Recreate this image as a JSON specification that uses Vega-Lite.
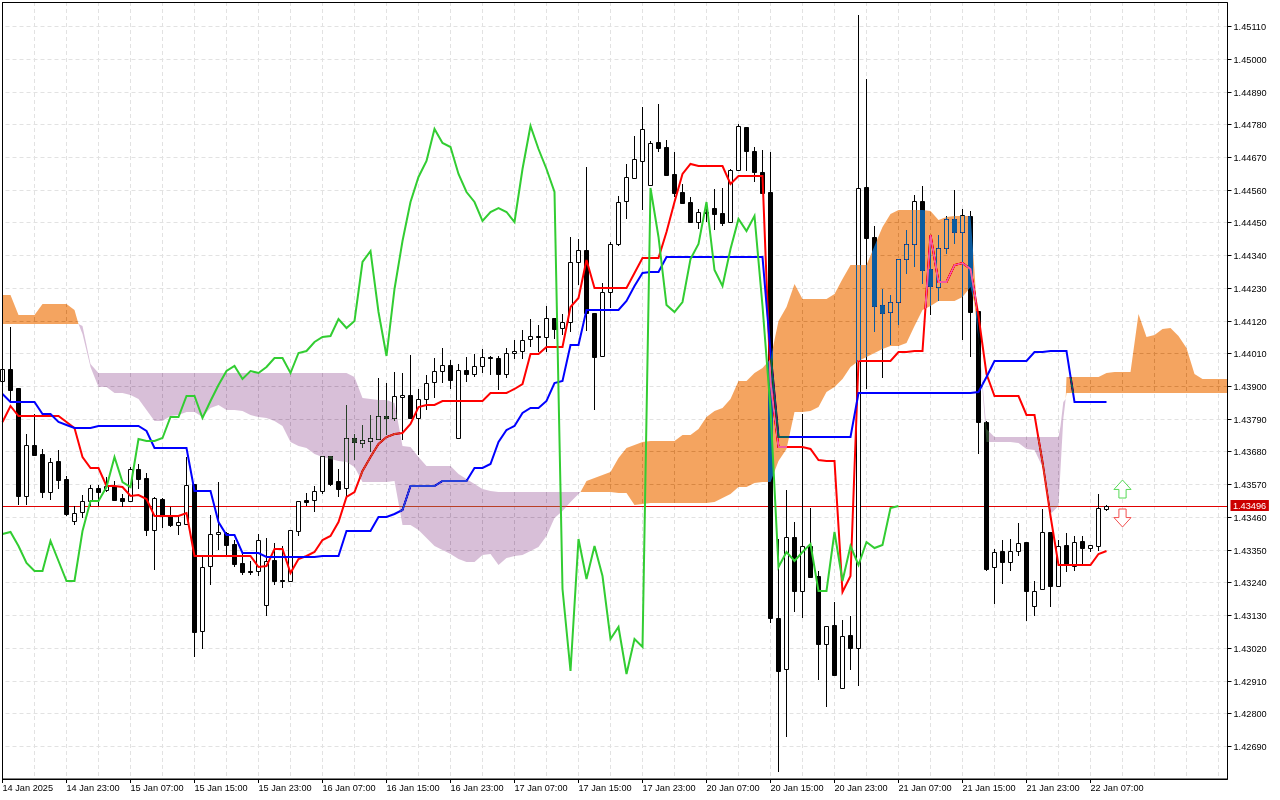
{
  "$schema": "https://vega.github.io/schema/vega-lite/v6.json",
  "width": 1225,
  "height": 777,
  "autosize": "none",
  "padding": {"left": 2, "top": 2, "right": 53, "bottom": 21},
  "background": "#ffffff",
  "config": {"view": {"stroke": "#000000", "strokeWidth": 1}},
  "datasets": {
    "bars": [
      {"bar":0,"open":1.43917,"high":1.43974,"low":1.43856,"close":1.43957,"tenkan":1.43779,"kijun":1.43873,"chikou":1.43402},
      {"bar":1,"open":1.43957,"high":1.44098,"low":1.43846,"close":1.43887,"tenkan":1.43833,"kijun":1.43846,"chikou":1.43409},
      {"bar":2,"open":1.43893,"high":1.43893,"low":1.43500,"close":1.43530,"tenkan":1.43799,"kijun":1.43846,"chikou":1.43362},
      {"bar":3,"open":1.43530,"high":1.43739,"low":1.43500,"close":1.43702,"tenkan":1.43799,"kijun":1.43846,"chikou":1.43305},
      {"bar":4,"open":1.43702,"high":1.43806,"low":1.43668,"close":1.43668,"tenkan":1.43799,"kijun":1.43846,"chikou":1.43278},
      {"bar":5,"open":1.43671,"high":1.43688,"low":1.43523,"close":1.43544,"tenkan":1.43799,"kijun":1.43806,"chikou":1.43278},
      {"bar":6,"open":1.43544,"high":1.43658,"low":1.43517,"close":1.43644,"tenkan":1.43799,"kijun":1.43806,"chikou":1.43379},
      {"bar":7,"open":1.43648,"high":1.43685,"low":1.43554,"close":1.43584,"tenkan":1.43799,"kijun":1.43779,"chikou":1.43312},
      {"bar":8,"open":1.43587,"high":1.43597,"low":1.43463,"close":1.43470,"tenkan":1.43779,"kijun":1.43769,"chikou":1.43244},
      {"bar":9,"open":1.43446,"high":1.43496,"low":1.43433,"close":1.43473,"tenkan":1.43759,"kijun":1.43759,"chikou":1.43244},
      {"bar":10,"open":1.43476,"high":1.43533,"low":1.43456,"close":1.43513,"tenkan":1.43661,"kijun":1.43759,"chikou":1.43412},
      {"bar":11,"open":1.43513,"high":1.43567,"low":1.43496,"close":1.43557,"tenkan":1.43624,"kijun":1.43759,"chikou":1.43513},
      {"bar":12,"open":1.43557,"high":1.43567,"low":1.43496,"close":1.43544,"tenkan":1.43624,"kijun":1.43765,"chikou":1.43513},
      {"bar":13,"open":1.43550,"high":1.43594,"low":1.43544,"close":1.43564,"tenkan":1.43564,"kijun":1.43765,"chikou":1.43560},
      {"bar":14,"open":1.43564,"high":1.43580,"low":1.43513,"close":1.43517,"tenkan":1.43564,"kijun":1.43765,"chikou":1.43661},
      {"bar":15,"open":1.43523,"high":1.43537,"low":1.43493,"close":1.43513,"tenkan":1.43560,"kijun":1.43765,"chikou":1.43577},
      {"bar":16,"open":1.43513,"high":1.43628,"low":1.43510,"close":1.43621,"tenkan":1.43530,"kijun":1.43765,"chikou":1.43560},
      {"bar":17,"open":1.43621,"high":1.43638,"low":1.43554,"close":1.43587,"tenkan":1.43533,"kijun":1.43765,"chikou":1.43722},
      {"bar":18,"open":1.43591,"high":1.43607,"low":1.43396,"close":1.43416,"tenkan":1.43520,"kijun":1.43749,"chikou":1.43715},
      {"bar":19,"open":1.43416,"high":1.43527,"low":1.43281,"close":1.43523,"tenkan":1.43463,"kijun":1.43691,"chikou":1.43715},
      {"bar":20,"open":1.43520,"high":1.43523,"low":1.43423,"close":1.43463,"tenkan":1.43463,"kijun":1.43691,"chikou":1.43725},
      {"bar":21,"open":1.43463,"high":1.43493,"low":1.43426,"close":1.43433,"tenkan":1.43463,"kijun":1.43691,"chikou":1.43796},
      {"bar":22,"open":1.43433,"high":1.43459,"low":1.43399,"close":1.43443,"tenkan":1.43463,"kijun":1.43691,"chikou":1.43796},
      {"bar":23,"open":1.43436,"high":1.43661,"low":1.43436,"close":1.43567,"tenkan":1.43473,"kijun":1.43691,"chikou":1.43866},
      {"bar":24,"open":1.43570,"high":1.43570,"low":1.42989,"close":1.43073,"tenkan":1.43328,"kijun":1.43547,"chikou":1.43866},
      {"bar":25,"open":1.43076,"high":1.43332,"low":1.43016,"close":1.43291,"tenkan":1.43328,"kijun":1.43547,"chikou":1.43792},
      {"bar":26,"open":1.43295,"high":1.43466,"low":1.43231,"close":1.43402,"tenkan":1.43328,"kijun":1.43547,"chikou":1.43849},
      {"bar":27,"open":1.43402,"high":1.43577,"low":1.43349,"close":1.43409,"tenkan":1.43328,"kijun":1.43443,"chikou":1.43903},
      {"bar":28,"open":1.43406,"high":1.43409,"low":1.43332,"close":1.43365,"tenkan":1.43328,"kijun":1.43399,"chikou":1.43950},
      {"bar":29,"open":1.43369,"high":1.43382,"low":1.43291,"close":1.43302,"tenkan":1.43328,"kijun":1.43399,"chikou":1.43967},
      {"bar":30,"open":1.43305,"high":1.43342,"low":1.43265,"close":1.43275,"tenkan":1.43328,"kijun":1.43339,"chikou":1.43923},
      {"bar":31,"open":1.43278,"high":1.43312,"low":1.43265,"close":1.43275,"tenkan":1.43328,"kijun":1.43339,"chikou":1.43950},
      {"bar":32,"open":1.43278,"high":1.43402,"low":1.43261,"close":1.43382,"tenkan":1.43291,"kijun":1.43339,"chikou":1.43944},
      {"bar":33,"open":1.43164,"high":1.43389,"low":1.43127,"close":1.43312,"tenkan":1.43295,"kijun":1.43325,"chikou":1.43964},
      {"bar":34,"open":1.43315,"high":1.43372,"low":1.43231,"close":1.43244,"tenkan":1.43352,"kijun":1.43325,"chikou":1.43994},
      {"bar":35,"open":1.43248,"high":1.43362,"low":1.43221,"close":1.43244,"tenkan":1.43352,"kijun":1.43325,"chikou":1.43994},
      {"bar":36,"open":1.43244,"high":1.43416,"low":1.43244,"close":1.43416,"tenkan":1.43271,"kijun":1.43325,"chikou":1.43944},
      {"bar":37,"open":1.43412,"high":1.43513,"low":1.43396,"close":1.43513,"tenkan":1.43318,"kijun":1.43325,"chikou":1.44011},
      {"bar":38,"open":1.43517,"high":1.43540,"low":1.43496,"close":1.43510,"tenkan":1.43328,"kijun":1.43325,"chikou":1.44018},
      {"bar":39,"open":1.43517,"high":1.43564,"low":1.43476,"close":1.43547,"tenkan":1.43342,"kijun":1.43325,"chikou":1.44048},
      {"bar":40,"open":1.43547,"high":1.43665,"low":1.43537,"close":1.43665,"tenkan":1.43382,"kijun":1.43328,"chikou":1.44065},
      {"bar":41,"open":1.43665,"high":1.43665,"low":1.43564,"close":1.43570,"tenkan":1.43396,"kijun":1.43328,"chikou":1.44068},
      {"bar":42,"open":1.43580,"high":1.43621,"low":1.43527,"close":1.43554,"tenkan":1.43443,"kijun":1.43328,"chikou":1.44125},
      {"bar":43,"open":1.43557,"high":1.43836,"low":1.43530,"close":1.43725,"tenkan":1.43527,"kijun":1.43412,"chikou":1.44095},
      {"bar":44,"open":1.43725,"high":1.43739,"low":1.43651,"close":1.43712,"tenkan":1.43544,"kijun":1.43412,"chikou":1.44118},
      {"bar":45,"open":1.43708,"high":1.43769,"low":1.43691,"close":1.43718,"tenkan":1.43614,"kijun":1.43412,"chikou":1.44317},
      {"bar":46,"open":1.43715,"high":1.43802,"low":1.43678,"close":1.43725,"tenkan":1.43661,"kijun":1.43412,"chikou":1.44354},
      {"bar":47,"open":1.43722,"high":1.43927,"low":1.43718,"close":1.43799,"tenkan":1.43705,"kijun":1.43459,"chikou":1.44149},
      {"bar":48,"open":1.43799,"high":1.43910,"low":1.43735,"close":1.43792,"tenkan":1.43728,"kijun":1.43459,"chikou":1.44001},
      {"bar":49,"open":1.43792,"high":1.43947,"low":1.43782,"close":1.43866,"tenkan":1.43739,"kijun":1.43470,"chikou":1.44226},
      {"bar":50,"open":1.43863,"high":1.43944,"low":1.43718,"close":1.43870,"tenkan":1.43742,"kijun":1.43483,"chikou":1.44387},
      {"bar":51,"open":1.43870,"high":1.44004,"low":1.43789,"close":1.43792,"tenkan":1.43772,"kijun":1.43564,"chikou":1.44518},
      {"bar":52,"open":1.43792,"high":1.43890,"low":1.43668,"close":1.43856,"tenkan":1.43829,"kijun":1.43564,"chikou":1.44603},
      {"bar":53,"open":1.43856,"high":1.43937,"low":1.43819,"close":1.43910,"tenkan":1.43836,"kijun":1.43564,"chikou":1.44656},
      {"bar":54,"open":1.43913,"high":1.43994,"low":1.43860,"close":1.43950,"tenkan":1.43836,"kijun":1.43564,"chikou":1.44764},
      {"bar":55,"open":1.43950,"high":1.44028,"low":1.43910,"close":1.43970,"tenkan":1.43849,"kijun":1.43580,"chikou":1.44717},
      {"bar":56,"open":1.43970,"high":1.43987,"low":1.43890,"close":1.43920,"tenkan":1.43849,"kijun":1.43580,"chikou":1.44703},
      {"bar":57,"open":1.43725,"high":1.43974,"low":1.43725,"close":1.43954,"tenkan":1.43849,"kijun":1.43580,"chikou":1.44613},
      {"bar":58,"open":1.43954,"high":1.43997,"low":1.43913,"close":1.43940,"tenkan":1.43849,"kijun":1.43580,"chikou":1.44552},
      {"bar":59,"open":1.43940,"high":1.44008,"low":1.43930,"close":1.43967,"tenkan":1.43849,"kijun":1.43624,"chikou":1.44518},
      {"bar":60,"open":1.43967,"high":1.44024,"low":1.43944,"close":1.43997,"tenkan":1.43849,"kijun":1.43624,"chikou":1.44455},
      {"bar":61,"open":1.43997,"high":1.44001,"low":1.43937,"close":1.43994,"tenkan":1.43876,"kijun":1.43638,"chikou":1.44485},
      {"bar":62,"open":1.43994,"high":1.44001,"low":1.43887,"close":1.43940,"tenkan":1.43876,"kijun":1.43712,"chikou":1.44498},
      {"bar":63,"open":1.43940,"high":1.44028,"low":1.43927,"close":1.44011,"tenkan":1.43876,"kijun":1.43752,"chikou":1.44485},
      {"bar":64,"open":1.44011,"high":1.44055,"low":1.43991,"close":1.44018,"tenkan":1.43890,"kijun":1.43765,"chikou":1.44451},
      {"bar":65,"open":1.44018,"high":1.44088,"low":1.43991,"close":1.44055,"tenkan":1.43907,"kijun":1.43809,"chikou":1.44630},
      {"bar":66,"open":1.44058,"high":1.44125,"low":1.44031,"close":1.44068,"tenkan":1.44008,"kijun":1.43826,"chikou":1.44774},
      {"bar":67,"open":1.44068,"high":1.44105,"low":1.44014,"close":1.44065,"tenkan":1.44008,"kijun":1.43826,"chikou":1.44697},
      {"bar":68,"open":1.44065,"high":1.44169,"low":1.44014,"close":1.44129,"tenkan":1.44031,"kijun":1.43849,"chikou":1.44630},
      {"bar":69,"open":1.44129,"high":1.44129,"low":1.44058,"close":1.44092,"tenkan":1.44031,"kijun":1.43910,"chikou":1.44552},
      {"bar":70,"open":1.44095,"high":1.44142,"low":1.44071,"close":1.44115,"tenkan":1.44031,"kijun":1.43917,"chikou":1.43217},
      {"bar":71,"open":1.44115,"high":1.44401,"low":1.44081,"close":1.44317,"tenkan":1.44165,"kijun":1.44038,"chikou":1.42942},
      {"bar":72,"open":1.44317,"high":1.44394,"low":1.44240,"close":1.44357,"tenkan":1.44196,"kijun":1.44038,"chikou":1.43386},
      {"bar":73,"open":1.44357,"high":1.44636,"low":1.44085,"close":1.44145,"tenkan":1.44324,"kijun":1.44155,"chikou":1.43251},
      {"bar":74,"open":1.44145,"high":1.44145,"low":1.43819,"close":1.43997,"tenkan":1.44229,"kijun":1.44155,"chikou":1.43362},
      {"bar":75,"open":1.44001,"high":1.44246,"low":1.44001,"close":1.44216,"tenkan":1.44229,"kijun":1.44155,"chikou":1.43261},
      {"bar":76,"open":1.44216,"high":1.44384,"low":1.44162,"close":1.44377,"tenkan":1.44229,"kijun":1.44155,"chikou":1.43049},
      {"bar":77,"open":1.44377,"high":1.44539,"low":1.44371,"close":1.44518,"tenkan":1.44229,"kijun":1.44155,"chikou":1.43090},
      {"bar":78,"open":1.44522,"high":1.44646,"low":1.44461,"close":1.44603,"tenkan":1.44229,"kijun":1.44186,"chikou":1.42932},
      {"bar":79,"open":1.44599,"high":1.44740,"low":1.44599,"close":1.44663,"tenkan":1.44280,"kijun":1.44236,"chikou":1.43049},
      {"bar":80,"open":1.44656,"high":1.44838,"low":1.44492,"close":1.44764,"tenkan":1.44330,"kijun":1.44280,"chikou":1.43022},
      {"bar":81,"open":1.44576,"high":1.44724,"low":1.44576,"close":1.44717,"tenkan":1.44330,"kijun":1.44283,"chikou":1.44566},
      {"bar":82,"open":1.44720,"high":1.44848,"low":1.44687,"close":1.44700,"tenkan":1.44330,"kijun":1.44283,"chikou":1.44401},
      {"bar":83,"open":1.44703,"high":1.44727,"low":1.44609,"close":1.44609,"tenkan":1.44418,"kijun":1.44334,"chikou":1.44172},
      {"bar":84,"open":1.44613,"high":1.44687,"low":1.44535,"close":1.44549,"tenkan":1.44518,"kijun":1.44334,"chikou":1.44149},
      {"bar":85,"open":1.44552,"high":1.44579,"low":1.44512,"close":1.44515,"tenkan":1.44613,"kijun":1.44334,"chikou":1.44182},
      {"bar":86,"open":1.44518,"high":1.44535,"low":1.44451,"close":1.44451,"tenkan":1.44646,"kijun":1.44334,"chikou":1.44327},
      {"bar":87,"open":1.44451,"high":1.44495,"low":1.44428,"close":1.44485,"tenkan":1.44640,"kijun":1.44334,"chikou":1.44377},
      {"bar":88,"open":1.44485,"high":1.44518,"low":1.44451,"close":1.44481,"tenkan":1.44640,"kijun":1.44334,"chikou":1.44518},
      {"bar":89,"open":1.44498,"high":1.44562,"low":1.44424,"close":1.44478,"tenkan":1.44640,"kijun":1.44334,"chikou":1.44290},
      {"bar":90,"open":1.44481,"high":1.44566,"low":1.44438,"close":1.44448,"tenkan":1.44640,"kijun":1.44334,"chikou":1.44236},
      {"bar":91,"open":1.44451,"high":1.44630,"low":1.44448,"close":1.44626,"tenkan":1.44579,"kijun":1.44334,"chikou":1.44361},
      {"bar":92,"open":1.44626,"high":1.44781,"low":1.44626,"close":1.44774,"tenkan":1.44606,"kijun":1.44334,"chikou":1.44461},
      {"bar":93,"open":1.44771,"high":1.44771,"low":1.44623,"close":1.44690,"tenkan":1.44606,"kijun":1.44334,"chikou":1.44421},
      {"bar":94,"open":1.44690,"high":1.44703,"low":1.44586,"close":1.44619,"tenkan":1.44606,"kijun":1.44334,"chikou":1.44471},
      {"bar":95,"open":1.44619,"high":1.44693,"low":1.44549,"close":1.44549,"tenkan":1.44606,"kijun":1.44334,"chikou":1.44169},
      {"bar":96,"open":1.44552,"high":1.44687,"low":1.43103,"close":1.43120,"tenkan":1.43913,"kijun":1.44014,"chikou":1.43823},
      {"bar":97,"open":1.43120,"high":1.43386,"low":1.42602,"close":1.42942,"tenkan":1.43695,"kijun":1.43728,"chikou":1.43291},
      {"bar":98,"open":1.42949,"high":1.43550,"low":1.42720,"close":1.43392,"tenkan":1.43695,"kijun":1.43728,"chikou":1.43342},
      {"bar":99,"open":1.43392,"high":1.43443,"low":1.43140,"close":1.43211,"tenkan":1.43695,"kijun":1.43728,"chikou":1.43312},
      {"bar":100,"open":1.43211,"high":1.43806,"low":1.43120,"close":1.43362,"tenkan":1.43695,"kijun":1.43728,"chikou":1.43342},
      {"bar":101,"open":1.43362,"high":1.43490,"low":1.43254,"close":1.43258,"tenkan":1.43688,"kijun":1.43728,"chikou":1.43369},
      {"bar":102,"open":1.43261,"high":1.43278,"low":1.42912,"close":1.43033,"tenkan":1.43651,"kijun":1.43728,"chikou":1.43211},
      {"bar":103,"open":1.43033,"high":1.43093,"low":1.42821,"close":1.43093,"tenkan":1.43648,"kijun":1.43728,"chikou":1.43211},
      {"bar":104,"open":1.43096,"high":1.43174,"low":1.42928,"close":1.42928,"tenkan":1.43648,"kijun":1.43728,"chikou":1.43409},
      {"bar":105,"open":1.42885,"high":1.43113,"low":1.42885,"close":1.43059,"tenkan":1.43207,"kijun":1.43728,"chikou":1.43244},
      {"bar":106,"open":1.43063,"high":1.43127,"low":1.42945,"close":1.43019,"tenkan":1.43261,"kijun":1.43728,"chikou":1.43362},
      {"bar":107,"open":1.43019,"high":1.45147,"low":1.42891,"close":1.44566,"tenkan":1.43984,"kijun":1.43876,"chikou":1.43298},
      {"bar":108,"open":1.44569,"high":1.44932,"low":1.43890,"close":1.44398,"tenkan":1.43984,"kijun":1.43876,"chikou":1.43375},
      {"bar":109,"open":1.44401,"high":1.44438,"low":1.44081,"close":1.44169,"tenkan":1.43984,"kijun":1.43876,"chikou":1.43355},
      {"bar":110,"open":1.44172,"high":1.44226,"low":1.43927,"close":1.44145,"tenkan":1.43984,"kijun":1.43876,"chikou":1.43365},
      {"bar":111,"open":1.44149,"high":1.44206,"low":1.44038,"close":1.44182,"tenkan":1.43984,"kijun":1.43876,"chikou":1.43490},
      {"bar":112,"open":1.44182,"high":1.44327,"low":1.44105,"close":1.44327,"tenkan":1.44014,"kijun":1.43876,"chikou":1.43496},
      {"bar":113,"open":1.44327,"high":1.44424,"low":1.44276,"close":1.44377,"tenkan":1.44014,"kijun":1.43876},
      {"bar":114,"open":1.44377,"high":1.44542,"low":1.44300,"close":1.44522,"tenkan":1.44018,"kijun":1.43876},
      {"bar":115,"open":1.44522,"high":1.44572,"low":1.44243,"close":1.44290,"tenkan":1.44018,"kijun":1.43876},
      {"bar":116,"open":1.44293,"high":1.44404,"low":1.44139,"close":1.44236,"tenkan":1.44408,"kijun":1.43876},
      {"bar":117,"open":1.44233,"high":1.44408,"low":1.44186,"close":1.44364,"tenkan":1.44250,"kijun":1.43876},
      {"bar":118,"open":1.44364,"high":1.44471,"low":1.44344,"close":1.44461,"tenkan":1.44250,"kijun":1.43876},
      {"bar":119,"open":1.44461,"high":1.44559,"low":1.44377,"close":1.44418,"tenkan":1.44307,"kijun":1.43876},
      {"bar":120,"open":1.44418,"high":1.44495,"low":1.44055,"close":1.44475,"tenkan":1.44313,"kijun":1.43876},
      {"bar":121,"open":1.44471,"high":1.44488,"low":1.43997,"close":1.44149,"tenkan":1.44293,"kijun":1.43876},
      {"bar":122,"open":1.44152,"high":1.44152,"low":1.43671,"close":1.43779,"tenkan":1.44135,"kijun":1.43880},
      {"bar":123,"open":1.43779,"high":1.43782,"low":1.43278,"close":1.43285,"tenkan":1.43940,"kijun":1.43930},
      {"bar":124,"open":1.43291,"high":1.43352,"low":1.43167,"close":1.43342,"tenkan":1.43866,"kijun":1.43984},
      {"bar":125,"open":1.43345,"high":1.43382,"low":1.43234,"close":1.43308,"tenkan":1.43866,"kijun":1.43984},
      {"bar":126,"open":1.43308,"high":1.43386,"low":1.43278,"close":1.43345,"tenkan":1.43866,"kijun":1.43984},
      {"bar":127,"open":1.43345,"high":1.43439,"low":1.43328,"close":1.43372,"tenkan":1.43866,"kijun":1.43984},
      {"bar":128,"open":1.43375,"high":1.43375,"low":1.43110,"close":1.43211,"tenkan":1.43802,"kijun":1.43984},
      {"bar":129,"open":1.43160,"high":1.43244,"low":1.43127,"close":1.43211,"tenkan":1.43802,"kijun":1.44014},
      {"bar":130,"open":1.43217,"high":1.43486,"low":1.43217,"close":1.43409,"tenkan":1.43644,"kijun":1.44014},
      {"bar":131,"open":1.43409,"high":1.43409,"low":1.43157,"close":1.43227,"tenkan":1.43463,"kijun":1.44018},
      {"bar":132,"open":1.43227,"high":1.43382,"low":1.43227,"close":1.43362,"tenkan":1.43298,"kijun":1.44018},
      {"bar":133,"open":1.43365,"high":1.43406,"low":1.43275,"close":1.43298,"tenkan":1.43298,"kijun":1.44018},
      {"bar":134,"open":1.43295,"high":1.43396,"low":1.43278,"close":1.43375,"tenkan":1.43298,"kijun":1.43846},
      {"bar":135,"open":1.43379,"high":1.43396,"low":1.43298,"close":1.43355,"tenkan":1.43298,"kijun":1.43846},
      {"bar":136,"open":1.43355,"high":1.43365,"low":1.43342,"close":1.43365,"tenkan":1.43298,"kijun":1.43846},
      {"bar":137,"open":1.43362,"high":1.43537,"low":1.43345,"close":1.43490,"tenkan":1.43335,"kijun":1.43846},
      {"bar":138,"open":1.43486,"high":1.43500,"low":1.43480,"close":1.43496,"tenkan":1.43345,"kijun":1.43846}
    ],
    "cloud": [
      {"bar":0,"upper":1.44206,"lower":1.44108,"kind":"bull","segment":1},
      {"bar":1,"upper":1.44206,"lower":1.44108,"kind":"bull","segment":1},
      {"bar":2,"upper":1.44139,"lower":1.44108,"kind":"bull","segment":1},
      {"bar":4,"upper":1.44139,"lower":1.44108,"kind":"bull","segment":1},
      {"bar":5,"upper":1.44176,"lower":1.44108,"kind":"bull","segment":1},
      {"bar":8,"upper":1.44176,"lower":1.44108,"kind":"bull","segment":1},
      {"bar":9,"upper":1.44155,"lower":1.44108,"kind":"bull","segment":1},
      {"bar":9.5,"upper":1.44108,"lower":1.44108,"kind":"bull","segment":1},
      {"bar":9.5,"upper":1.44108,"lower":1.44108,"kind":"bear","segment":2},
      {"bar":10,"upper":1.44102,"lower":1.44075,"kind":"bear","segment":2},
      {"bar":11,"upper":1.43974,"lower":1.43964,"kind":"bear","segment":2},
      {"bar":12,"upper":1.43944,"lower":1.43897,"kind":"bear","segment":2},
      {"bar":13,"upper":1.43944,"lower":1.43897,"kind":"bear","segment":2},
      {"bar":14,"upper":1.43944,"lower":1.43876,"kind":"bear","segment":2},
      {"bar":15,"upper":1.43944,"lower":1.43876,"kind":"bear","segment":2},
      {"bar":16,"upper":1.43944,"lower":1.43870,"kind":"bear","segment":2},
      {"bar":17,"upper":1.43944,"lower":1.43856,"kind":"bear","segment":2},
      {"bar":18,"upper":1.43944,"lower":1.43819,"kind":"bear","segment":2},
      {"bar":19,"upper":1.43944,"lower":1.43782,"kind":"bear","segment":2},
      {"bar":20,"upper":1.43944,"lower":1.43782,"kind":"bear","segment":2},
      {"bar":21,"upper":1.43944,"lower":1.43799,"kind":"bear","segment":2},
      {"bar":22,"upper":1.43944,"lower":1.43802,"kind":"bear","segment":2},
      {"bar":23,"upper":1.43944,"lower":1.43813,"kind":"bear","segment":2},
      {"bar":24,"upper":1.43944,"lower":1.43813,"kind":"bear","segment":2},
      {"bar":25,"upper":1.43944,"lower":1.43796,"kind":"bear","segment":2},
      {"bar":26,"upper":1.43944,"lower":1.43826,"kind":"bear","segment":2},
      {"bar":27,"upper":1.43944,"lower":1.43836,"kind":"bear","segment":2},
      {"bar":28,"upper":1.43944,"lower":1.43819,"kind":"bear","segment":2},
      {"bar":29,"upper":1.43944,"lower":1.43819,"kind":"bear","segment":2},
      {"bar":30,"upper":1.43944,"lower":1.43816,"kind":"bear","segment":2},
      {"bar":31,"upper":1.43944,"lower":1.43802,"kind":"bear","segment":2},
      {"bar":32,"upper":1.43944,"lower":1.43796,"kind":"bear","segment":2},
      {"bar":33,"upper":1.43944,"lower":1.43792,"kind":"bear","segment":2},
      {"bar":34,"upper":1.43944,"lower":1.43782,"kind":"bear","segment":2},
      {"bar":35,"upper":1.43944,"lower":1.43765,"kind":"bear","segment":2},
      {"bar":36,"upper":1.43944,"lower":1.43712,"kind":"bear","segment":2},
      {"bar":37,"upper":1.43944,"lower":1.43698,"kind":"bear","segment":2},
      {"bar":38,"upper":1.43944,"lower":1.43691,"kind":"bear","segment":2},
      {"bar":39,"upper":1.43944,"lower":1.43671,"kind":"bear","segment":2},
      {"bar":40,"upper":1.43944,"lower":1.43661,"kind":"bear","segment":2},
      {"bar":41,"upper":1.43944,"lower":1.43654,"kind":"bear","segment":2},
      {"bar":42,"upper":1.43944,"lower":1.43648,"kind":"bear","segment":2},
      {"bar":43,"upper":1.43944,"lower":1.43644,"kind":"bear","segment":2},
      {"bar":44,"upper":1.43930,"lower":1.43628,"kind":"bear","segment":2},
      {"bar":45,"upper":1.43860,"lower":1.43577,"kind":"bear","segment":2},
      {"bar":46,"upper":1.43856,"lower":1.43577,"kind":"bear","segment":2},
      {"bar":47,"upper":1.43853,"lower":1.43577,"kind":"bear","segment":2},
      {"bar":48,"upper":1.43853,"lower":1.43577,"kind":"bear","segment":2},
      {"bar":49,"upper":1.43843,"lower":1.43580,"kind":"bear","segment":2},
      {"bar":50,"upper":1.43698,"lower":1.43433,"kind":"bear","segment":2},
      {"bar":51,"upper":1.43695,"lower":1.43433,"kind":"bear","segment":2},
      {"bar":52,"upper":1.43661,"lower":1.43416,"kind":"bear","segment":2},
      {"bar":53,"upper":1.43631,"lower":1.43389,"kind":"bear","segment":2},
      {"bar":54,"upper":1.43631,"lower":1.43362,"kind":"bear","segment":2},
      {"bar":55,"upper":1.43631,"lower":1.43349,"kind":"bear","segment":2},
      {"bar":56,"upper":1.43631,"lower":1.43335,"kind":"bear","segment":2},
      {"bar":57,"upper":1.43604,"lower":1.43318,"kind":"bear","segment":2},
      {"bar":58,"upper":1.43587,"lower":1.43308,"kind":"bear","segment":2},
      {"bar":59,"upper":1.43570,"lower":1.43308,"kind":"bear","segment":2},
      {"bar":60,"upper":1.43554,"lower":1.43332,"kind":"bear","segment":2},
      {"bar":61,"upper":1.43547,"lower":1.43335,"kind":"bear","segment":2},
      {"bar":62,"upper":1.43544,"lower":1.43298,"kind":"bear","segment":2},
      {"bar":63,"upper":1.43544,"lower":1.43322,"kind":"bear","segment":2},
      {"bar":64,"upper":1.43544,"lower":1.43328,"kind":"bear","segment":2},
      {"bar":65,"upper":1.43544,"lower":1.43332,"kind":"bear","segment":2},
      {"bar":66,"upper":1.43544,"lower":1.43345,"kind":"bear","segment":2},
      {"bar":67,"upper":1.43544,"lower":1.43359,"kind":"bear","segment":2},
      {"bar":68,"upper":1.43544,"lower":1.43396,"kind":"bear","segment":2},
      {"bar":69,"upper":1.43544,"lower":1.43456,"kind":"bear","segment":2},
      {"bar":70,"upper":1.43544,"lower":1.43480,"kind":"bear","segment":2},
      {"bar":71,"upper":1.43544,"lower":1.43510,"kind":"bear","segment":2},
      {"bar":72.25,"upper":1.43544,"lower":1.43544,"kind":"bear","segment":2},
      {"bar":72.25,"upper":1.43544,"lower":1.43544,"kind":"bull","segment":3},
      {"bar":73,"upper":1.43580,"lower":1.43544,"kind":"bull","segment":3},
      {"bar":74,"upper":1.43591,"lower":1.43544,"kind":"bull","segment":3},
      {"bar":75,"upper":1.43601,"lower":1.43544,"kind":"bull","segment":3},
      {"bar":76,"upper":1.43611,"lower":1.43544,"kind":"bull","segment":3},
      {"bar":77,"upper":1.43658,"lower":1.43540,"kind":"bull","segment":3},
      {"bar":78,"upper":1.43691,"lower":1.43540,"kind":"bull","segment":3},
      {"bar":79,"upper":1.43702,"lower":1.43500,"kind":"bull","segment":3},
      {"bar":80,"upper":1.43712,"lower":1.43503,"kind":"bull","segment":3},
      {"bar":81,"upper":1.43715,"lower":1.43507,"kind":"bull","segment":3},
      {"bar":84,"upper":1.43715,"lower":1.43507,"kind":"bull","segment":3},
      {"bar":85,"upper":1.43735,"lower":1.43507,"kind":"bull","segment":3},
      {"bar":86,"upper":1.43735,"lower":1.43507,"kind":"bull","segment":3},
      {"bar":87,"upper":1.43755,"lower":1.43507,"kind":"bull","segment":3},
      {"bar":88,"upper":1.43796,"lower":1.43507,"kind":"bull","segment":3},
      {"bar":89,"upper":1.43816,"lower":1.43510,"kind":"bull","segment":3},
      {"bar":90,"upper":1.43826,"lower":1.43523,"kind":"bull","segment":3},
      {"bar":91,"upper":1.43856,"lower":1.43537,"kind":"bull","segment":3},
      {"bar":92,"upper":1.43917,"lower":1.43560,"kind":"bull","segment":3},
      {"bar":93,"upper":1.43917,"lower":1.43560,"kind":"bull","segment":3},
      {"bar":94,"upper":1.43944,"lower":1.43574,"kind":"bull","segment":3},
      {"bar":95,"upper":1.43960,"lower":1.43577,"kind":"bull","segment":3},
      {"bar":96,"upper":1.43991,"lower":1.43577,"kind":"bull","segment":3},
      {"bar":97,"upper":1.44118,"lower":1.43648,"kind":"bull","segment":3},
      {"bar":98,"upper":1.44165,"lower":1.43688,"kind":"bull","segment":3},
      {"bar":99,"upper":1.44243,"lower":1.43813,"kind":"bull","segment":3},
      {"bar":100,"upper":1.44192,"lower":1.43813,"kind":"bull","segment":3},
      {"bar":101,"upper":1.44192,"lower":1.43816,"kind":"bull","segment":3},
      {"bar":102,"upper":1.44192,"lower":1.43829,"kind":"bull","segment":3},
      {"bar":103,"upper":1.44192,"lower":1.43880,"kind":"bull","segment":3},
      {"bar":104,"upper":1.44209,"lower":1.43897,"kind":"bull","segment":3},
      {"bar":105,"upper":1.44260,"lower":1.43923,"kind":"bull","segment":3},
      {"bar":106,"upper":1.44307,"lower":1.43964,"kind":"bull","segment":3},
      {"bar":107,"upper":1.44307,"lower":1.43984,"kind":"bull","segment":3},
      {"bar":108,"upper":1.44307,"lower":1.43997,"kind":"bull","segment":3},
      {"bar":109,"upper":1.44371,"lower":1.44011,"kind":"bull","segment":3},
      {"bar":110,"upper":1.44434,"lower":1.44024,"kind":"bull","segment":3},
      {"bar":111,"upper":1.44478,"lower":1.44034,"kind":"bull","segment":3},
      {"bar":112,"upper":1.44492,"lower":1.44034,"kind":"bull","segment":3},
      {"bar":113,"upper":1.44492,"lower":1.44044,"kind":"bull","segment":3},
      {"bar":114,"upper":1.44492,"lower":1.44102,"kind":"bull","segment":3},
      {"bar":115,"upper":1.44492,"lower":1.44155,"kind":"bull","segment":3},
      {"bar":116,"upper":1.44488,"lower":1.44169,"kind":"bull","segment":3},
      {"bar":117,"upper":1.44458,"lower":1.44186,"kind":"bull","segment":3},
      {"bar":118,"upper":1.44468,"lower":1.44186,"kind":"bull","segment":3},
      {"bar":119,"upper":1.44471,"lower":1.44186,"kind":"bull","segment":3},
      {"bar":120,"upper":1.44471,"lower":1.44199,"kind":"bull","segment":3},
      {"bar":121,"upper":1.44471,"lower":1.44233,"kind":"bull","segment":3},
      {"bar":121.5,"upper":1.44286,"lower":1.44176,"kind":"bull","segment":3},
      {"bar":122,"upper":1.44065,"lower":1.44058,"kind":"bull","segment":3},
      {"bar":122,"upper":1.44065,"lower":1.44058,"kind":"bear","segment":4},
      {"bar":123,"upper":1.43755,"lower":1.43712,"kind":"bear","segment":4},
      {"bar":124,"upper":1.43728,"lower":1.43712,"kind":"bear","segment":4},
      {"bar":126,"upper":1.43728,"lower":1.43712,"kind":"bear","segment":4},
      {"bar":127,"upper":1.43728,"lower":1.43708,"kind":"bear","segment":4},
      {"bar":128,"upper":1.43728,"lower":1.43688,"kind":"bear","segment":4},
      {"bar":129,"upper":1.43728,"lower":1.43685,"kind":"bear","segment":4},
      {"bar":130,"upper":1.43728,"lower":1.43628,"kind":"bear","segment":4},
      {"bar":131,"upper":1.43728,"lower":1.43470,"kind":"bear","segment":4},
      {"bar":132,"upper":1.43728,"lower":1.43496,"kind":"bear","segment":4},
      {"bar":132.25,"upper":1.43765,"lower":1.43621,"kind":"bear","segment":4},
      {"bar":132.6,"upper":1.43846,"lower":1.43789,"kind":"bear","segment":4},
      {"bar":132.9,"upper":1.43856,"lower":1.43856,"kind":"bear","segment":4},
      {"bar":132.9,"upper":1.43856,"lower":1.43856,"kind":"bull","segment":5},
      {"bar":133,"upper":1.43930,"lower":1.43876,"kind":"bull","segment":5},
      {"bar":137,"upper":1.43930,"lower":1.43876,"kind":"bull","segment":5},
      {"bar":138,"upper":1.43944,"lower":1.43876,"kind":"bull","segment":5},
      {"bar":139,"upper":1.43947,"lower":1.43876,"kind":"bull","segment":5},
      {"bar":141,"upper":1.43947,"lower":1.43876,"kind":"bull","segment":5},
      {"bar":142,"upper":1.44142,"lower":1.43876,"kind":"bull","segment":5},
      {"bar":143,"upper":1.44065,"lower":1.43876,"kind":"bull","segment":5},
      {"bar":144,"upper":1.44071,"lower":1.43876,"kind":"bull","segment":5},
      {"bar":145,"upper":1.44092,"lower":1.43876,"kind":"bull","segment":5},
      {"bar":146,"upper":1.44095,"lower":1.43876,"kind":"bull","segment":5},
      {"bar":147,"upper":1.44068,"lower":1.43876,"kind":"bull","segment":5},
      {"bar":148,"upper":1.44028,"lower":1.43876,"kind":"bull","segment":5},
      {"bar":149,"upper":1.43940,"lower":1.43876,"kind":"bull","segment":5},
      {"bar":150,"upper":1.43923,"lower":1.43876,"kind":"bull","segment":5},
      {"bar":153.06,"upper":1.43923,"lower":1.43876,"kind":"bull","segment":5}
    ],
    "current": [{"price": 1.43496}],
    "arrows": [
      {"bar": 140, "price": 1.43554, "dir": "up"},
      {"bar": 140, "price": 1.43456, "dir": "down"}
    ],
    "tag": [{"bar": 153.5, "barEnd": 158.3, "top": 1.43517, "bottom": 1.4348, "price": 1.43496, "text": "1.43496", "textBar": 153.8}]
  },
  "encoding": {
    "x": {
      "field": "bar",
      "type": "quantitative",
      "title": null,
      "scale": {"domain": [-0.0625, 153.0625], "nice": false, "zero": false, "padding": 0},
      "axis": {
        "values": [0,4,8,12,16,20,24,28,32,36,40,44,48,52,56,60,64,68,72,76,80,84,88,92,96,100,104,108,112,116,120,124,128,132,136,140,144,148,152],
        "tickCount": 60,
        "translate": 0,
        "tickRound": false,
        "grid": true,
        "gridColor": "#e2e2e2",
        "gridDash": [4, 3],
        "gridOpacity": {"condition": {"test": "datum.value == 0", "value": 0}, "value": 1},
        "domain": true,
        "domainColor": "#000000",
        "ticks": true,
        "tickColor": "#000000",
        "tickSize": 4,
        "tickOpacity": {"condition": {"test": "datum.value % 8 == 0 && datum.value < 140", "value": 1}, "value": 0},
        "labelFont": "Liberation Sans",
        "labelFontSize": 9.2,
        "labelColor": "#000000",
        "labelAlign": "left",
        "labelPadding": 1,
        "labelOverlap": false,
        "labelFlush": false,
        "labelExpr": "datum.value % 8 == 0 && datum.value < 140 ? ['14 Jan 2025','14 Jan 23:00','15 Jan 07:00','15 Jan 15:00','15 Jan 23:00','16 Jan 07:00','16 Jan 15:00','16 Jan 23:00','17 Jan 07:00','17 Jan 15:00','17 Jan 23:00','20 Jan 07:00','20 Jan 15:00','20 Jan 23:00','21 Jan 07:00','21 Jan 15:00','21 Jan 23:00','22 Jan 07:00'][datum.value / 8] : ''"
      }
    }
  },
  "layer": [
    {
      "data": {"name": "current"},
      "mark": {"type": "rule", "stroke": "#e00000", "strokeWidth": 1, "yOffset": 0.5},
      "encoding": {
        "x": {"value": 0},
        "x2": {"value": 1225},
        "y": {
          "field": "price",
          "type": "quantitative",
          "title": null,
          "scale": {"domain": [1.42579, 1.45191], "nice": false, "zero": false, "round": true},
          "axis": {
            "orient": "right",
            "values": [1.4269,1.428,1.4291,1.4302,1.4313,1.4324,1.4335,1.4346,1.4357,1.4368,1.4379,1.439,1.4401,1.4412,1.4423,1.4434,1.4445,1.4456,1.4467,1.4478,1.4489,1.45,1.4511],
            "tickCount": 30,
            "format": ".5f",
            "grid": true,
            "gridColor": "#e2e2e2",
            "gridDash": [4, 3],
            "domainColor": "#000000",
            "tickColor": "#000000",
            "tickSize": 4,
            "labelFont": "Liberation Sans",
            "labelFontSize": 9.2,
            "labelColor": "#000000",
            "labelPadding": 2,
            "labelOverlap": false,
            "labelFlush": false
          }
        }
      }
    },
    {
      "data": {"name": "bars"},
      "mark": {"type": "rule", "stroke": "#000000", "strokeWidth": 1},
      "encoding": {
        "y": {"field": "high", "type": "quantitative"},
        "y2": {"field": "low"}
      }
    },
    {
      "data": {"name": "bars"},
      "mark": {"type": "bar", "width": 4, "stroke": "#000000", "strokeWidth": 1, "yOffset": 0.5, "y2Offset": 0.5},
      "encoding": {
        "y": {"field": "open", "type": "quantitative"},
        "y2": {"field": "close"},
        "fill": {"condition": {"test": "datum.close < datum.open", "value": "#000000"}, "value": "#ffffff"}
      }
    },
    {
      "data": {"name": "bars"},
      "mark": {"type": "line", "stroke": "#ff0000", "strokeWidth": 2},
      "encoding": {"y": {"field": "tenkan", "type": "quantitative"}}
    },
    {
      "data": {"name": "bars"},
      "mark": {"type": "line", "stroke": "#0000ff", "strokeWidth": 2},
      "encoding": {"y": {"field": "kijun", "type": "quantitative"}}
    },
    {
      "data": {"name": "cloud"},
      "mark": {"type": "area", "blend": "difference"},
      "encoding": {
        "y": {"field": "upper", "type": "quantitative"},
        "y2": {"field": "lower"},
        "detail": {"field": "segment"},
        "color": {
          "field": "kind",
          "type": "nominal",
          "scale": {"domain": ["bull", "bear"], "range": ["#0B5B9F", "#274027"]},
          "legend": null
        }
      }
    },
    {
      "data": {"name": "bars"},
      "mark": {"type": "line", "stroke": "#32cd32", "strokeWidth": 2},
      "encoding": {"y": {"field": "chikou", "type": "quantitative"}}
    },
    {
      "data": {"name": "arrows"},
      "mark": {"type": "point", "filled": true, "fill": "#ffffff", "size": 324, "strokeWidth": 1, "opacity": 1},
      "encoding": {
        "y": {"field": "price", "type": "quantitative"},
        "shape": {
          "field": "dir",
          "type": "nominal",
          "scale": {
            "domain": ["up", "down"],
            "range": ["M0,-1L0.95,0.05L0.4,0.05L0.4,1L-0.4,1L-0.4,0.05L-0.95,0.05Z", "M0,1L0.95,-0.05L0.4,-0.05L0.4,-1L-0.4,-1L-0.4,-0.05L-0.95,-0.05Z"]
          },
          "legend": null
        },
        "stroke": {
          "field": "dir",
          "type": "nominal",
          "scale": {"domain": ["up", "down"], "range": ["#55d955", "#f25050"]},
          "legend": null
        }
      }
    },
    {
      "data": {"name": "tag"},
      "mark": {"type": "rect", "fill": "#cc0000", "clip": false},
      "encoding": {
        "x": {"field": "bar", "type": "quantitative"},
        "x2": {"field": "barEnd"},
        "y": {"field": "top", "type": "quantitative"},
        "y2": {"field": "bottom"}
      }
    },
    {
      "data": {"name": "tag"},
      "mark": {"type": "text", "color": "#ffffff", "font": "Liberation Sans", "fontSize": 9.2, "align": "left", "baseline": "middle"},
      "encoding": {
        "x": {"field": "textBar", "type": "quantitative"},
        "y": {"field": "price", "type": "quantitative"},
        "text": {"field": "text", "type": "nominal"}
      }
    },
    {
      "data": {"name": "current"},
      "mark": {"type": "rule", "stroke": "#000000", "strokeWidth": 1},
      "encoding": {"x": {"value": 0}, "x2": {"value": 1225}, "y": {"value": 0.5}}
    },
    {
      "data": {"name": "current"},
      "mark": {"type": "rule", "stroke": "#000000", "strokeWidth": 1},
      "encoding": {"x": {"value": 0.5}, "y": {"value": 0}, "y2": {"value": 777}}
    }
  ]
}
